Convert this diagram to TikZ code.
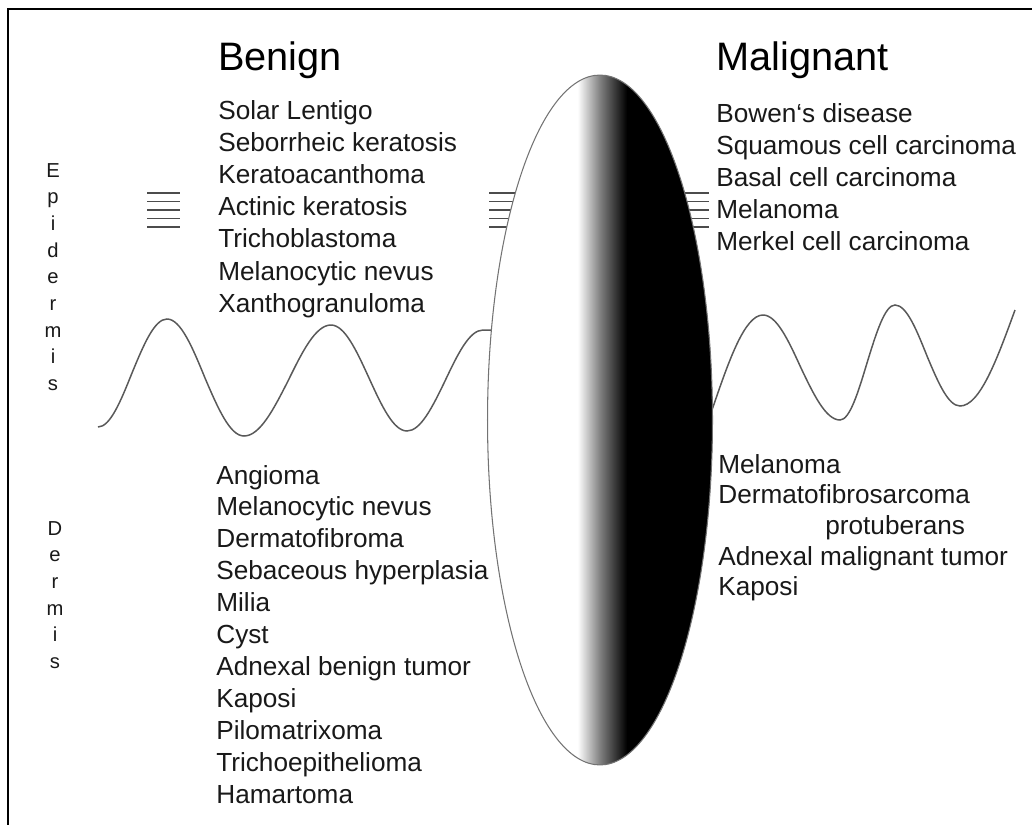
\documentclass[tikz,border=0pt]{standalone}
\usepackage{fontspec}
\setmainfont{Liberation Sans}
\usetikzlibrary{positioning}

% white to black across the lesion
\pgfdeclarehorizontalshading{lesionfade}{100bp}{color(0bp)=(white); color(45bp)=(white); color(50bp)=(black!50); color(56bp)=(black); color(100bp)=(black)}

\tikzset{
  heading/.style={anchor=base west, inner sep=0pt, font=\fontsize{22.6}{27}\selectfont},
  listitem/.style={anchor=base west, inner sep=0pt, text=black!90, font=\fontsize{14.9}{18}\selectfont},
  layerletter/.style={anchor=base, inner sep=0pt, text=black!90, font=\fontsize{11.5}{13}\selectfont},
  wave/.style={line width=0.85pt, black!65},
  hatch/.style={line width=0.7pt, black!70}
}

\begin{document}
\begin{tikzpicture}[x=0.02cm, y=-0.02cm]
        \useasboundingbox (0,0) rectangle (1032,825);

        % Frame (top and left edges)
        \coordinate (F1) at (8,825);
        \coordinate (F2) at (8,9);
        \coordinate (F3) at (1032,9);
        \draw[line width=1.1pt] (F1) -- (F2) -- (F3);

        % Dermo-epidermal junction, benign side
        \draw[wave] (98,427) cos (132,373) sin (167,319) cos (205,378) sin (244,436)
            cos (288,381) sin (331,325) cos (369,378) sin (407,431)
            cos (445,381) sin (483,330) -- (492,330);

        % Dermo-epidermal junction, malignant side
        \draw[wave] (712,410) sin (763,315) cos (801,368) sin (840,420)
            cos (867,363) sin (895,305) cos (927,356) sin (960,406) cos (1015,310);

        % Horizontal hatch marks
        \foreach \y in {193,201.5,210,218.5,227} {
            \draw[hatch] (147,\y) -- (180,\y);
            \draw[hatch] (489,\y) -- (709,\y);
        }

        % The lesion
        \coordinate (L) at (600,420);
        \path[shading=lesionfade, draw=black!55, line width=0.6pt] (L) ellipse [x radius=2.25cm, y radius=6.9cm];

        % Layer labels
        \foreach \l [count=\i from 0] in {E,p,i,d,e,r,m,i,s}
            \node[layerletter] (epi\i) at (53,{177+26.7*\i}) {\l};
        \foreach \l [count=\i from 0] in {D,e,r,m,i,s}
            \node[layerletter] (der\i) at (55,{535+26.7*\i}) {\l};

        % Headings
        \node[heading] (benign) at (218,70) {Benign};
        \node[heading] (malignant) at (716,70) {Malignant};

        % Benign lists
        \foreach \t [count=\i from 0] in {Solar Lentigo,Seborrheic keratosis,Keratoacanthoma,Actinic keratosis,Trichoblastoma,Melanocytic nevus,Xanthogranuloma}
            \node[listitem] (be\i) at (218,{119+32.2*\i}) {\t};
        \foreach \t [count=\i from 0] in {Angioma,Melanocytic nevus,Dermatofibroma,Sebaceous hyperplasia,Milia,Cyst,Adnexal benign tumor,Kaposi,Pilomatrixoma,Trichoepithelioma,Hamartoma}
            \node[listitem] (bd\i) at (216,{484+31.9*\i}) {\t};

        % Malignant lists
        \foreach \t [count=\i from 0] in {Bowen‘s disease,Squamous cell carcinoma,Basal cell carcinoma,Melanoma,Merkel cell carcinoma}
            \node[listitem] (me\i) at (716,{122+32*\i}) {\t};
        \node[listitem] (md0) at (718,473) {Melanoma};
        \node[listitem] (md1) at (718,503) {Dermatofibrosarcoma};
        \node[listitem] (md2) at (825,534) {protuberans};
        \node[listitem] (md3) at (718,565) {Adnexal malignant tumor};
        \node[listitem] (md4) at (718,595) {Kaposi};

    \end{tikzpicture}
\end{document}
